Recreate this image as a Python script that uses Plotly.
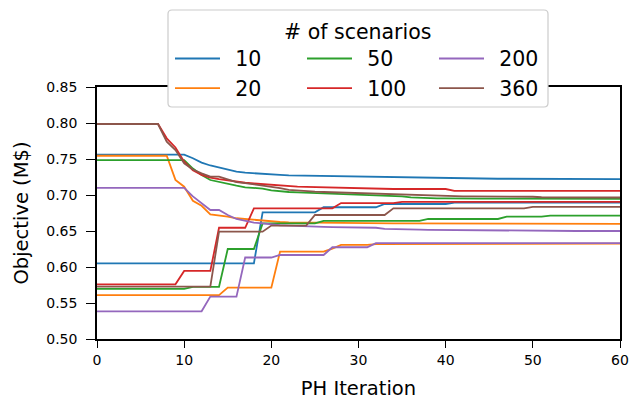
import plotly.graph_objects as go

iterations = list(range(61))

scenario_labels = ["10", "20", "50", "100", "200", "360"]

upper_10 = [0.756]*11 + [0.751, 0.745, 0.741, 0.738, 0.735, 0.7325, 0.731, 0.730, 0.7295, 0.729,
            0.728, 0.7272, 0.727, 0.7265, 0.726, 0.7257, 0.7255, 0.7252, 0.725, 0.7248,
            0.7246, 0.7244, 0.7242, 0.724, 0.7238, 0.7237, 0.7236, 0.7235, 0.7234, 0.7232,
            0.7231, 0.723, 0.7229, 0.7228, 0.7227, 0.7226, 0.7226, 0.7225, 0.7225, 0.7224,
            0.7224, 0.7223, 0.7223, 0.7222, 0.7222, 0.7221, 0.7221, 0.722, 0.722, 0.722]
lower_10 = [0.605]*19 + [0.676]*7 + [0.683]*7 + [0.6875]*8 + [0.6895]*20

upper_20 = [0.7545]*9 + [0.721, 0.7115, 0.692, 0.685, 0.673, 0.672, 0.670, 0.6677, 0.6665, 0.6653, 0.664, 0.663,
            0.6625, 0.662, 0.6618, 0.6616, 0.6614, 0.6612, 0.661, 0.6609, 0.6608, 0.6607] + [0.6605]*10 + [0.660]*20
lower_20 = [0.561]*15 + [0.5713]*6 + [0.6213]*6 + [0.6255] + [0.6306]*4 + [0.6318]*12 + [0.6325]*17

upper_50 = [0.7485]*11 + [0.7367, 0.7278, 0.7208, 0.718, 0.7162, 0.713, 0.7107, 0.7098, 0.709, 0.7065,
            0.705, 0.7042, 0.7036, 0.7032, 0.7028, 0.7024, 0.702, 0.7016, 0.7012, 0.7008,
            0.7002, 0.6996, 0.699, 0.6985, 0.698, 0.6968, 0.696, 0.6956, 0.6954, 0.6953] + [0.695]*10 + [0.6946]*10
lower_50 = [0.5695]*11 + [0.5725]*4 + [0.625]*4 + [0.6606]*7 + [0.6642]*12 + [0.6667]*9 + [0.670]*5 + [0.6713]*9

upper_100 = [0.7986]*8 + [0.7787, 0.766, 0.7463, 0.7344, 0.7278, 0.724, 0.7219, 0.7201, 0.7185, 0.717, 0.716, 0.715, 0.7144,
             0.7135, 0.7125, 0.7116, 0.7112, 0.7108, 0.7104, 0.7102, 0.7098, 0.7094, 0.709,
             0.7088, 0.7086, 0.7084] + [0.7083]*7 + [0.7058]*20
lower_100 = [0.576]*10 + [0.5945]*4 + [0.6545]*4 + [0.6815]*10 + [0.6888]*7 + [0.6905]*26

upper_200 = [0.7098]*11 + [0.698, 0.688, 0.6792, 0.6792, 0.6722, 0.6667, 0.6639, 0.6616, 0.6606, 0.659,
             0.658, 0.6574, 0.6567, 0.656, 0.6558, 0.6556, 0.6554, 0.6552, 0.6551, 0.655,
             0.6548, 0.6545, 0.653, 0.6525, 0.6522, 0.652, 0.6518, 0.6516, 0.6515, 0.6514] + [0.651]*4 + [0.650]*16
lower_200 = [0.5385]*13 + [0.5588]*4 + [0.6132]*4 + [0.6167]*6 + [0.6274]*5 + [0.6332]*29

upper_360 = [0.7986]*8 + [0.774, 0.7625, 0.744, 0.7353, 0.7301, 0.7255, 0.7255, 0.7219, 0.718, 0.7165, 0.7148, 0.713, 0.712,
             0.7095, 0.707, 0.706, 0.7052, 0.7046, 0.7042, 0.7038, 0.7034, 0.703, 0.7025,
             0.702, 0.7015, 0.701, 0.7005, 0.700, 0.6997, 0.6994, 0.6991, 0.6989, 0.6987] + [0.6982]*5 + [0.6976]*5 + [0.6969]*5 + [0.6965]*5
lower_360 = [0.5727]*14 + [0.649]*6 + [0.6575]*5 + [0.6722]*9 + [0.6815]*16 + [0.6835]*11

x_ticks = [0, 10, 20, 30, 40, 50, 60]
y_ticks = [0.50, 0.55, 0.60, 0.65, 0.70, 0.75, 0.80, 0.85]

colors = ["#1f77b4", "#ff7f0e", "#2ca02c", "#d62728", "#9467bd", "#8c564b"]
legend_ranks = [1, 4, 2, 5, 3, 6]
uppers = [upper_10, upper_20, upper_50, upper_100, upper_200, upper_360]
lowers = [lower_10, lower_20, lower_50, lower_100, lower_200, lower_360]

FONT = "DejaVu Sans"
W, H = 640, 402
ML, MR, MT, MB = 97, 20, 87, 63
PW, PH = W - ML - MR, H - MT - MB


def px_to_paper_x(px):
    return (px - ML) / PW


def px_to_paper_y(py):
    return (H - MB - py) / PH


fig = go.Figure()
for lab, col, rank, up, lo in zip(scenario_labels, colors, legend_ranks, uppers, lowers):
    fig.add_trace(go.Scatter(x=iterations, y=up, mode="lines", name="\u2002" + lab, legendgroup=lab,
                             legendrank=rank, line=dict(color=col, width=1.8), showlegend=True))
    fig.add_trace(go.Scatter(x=iterations, y=lo, mode="lines", name="\u2002" + lab, legendgroup=lab,
                             legendrank=rank, line=dict(color=col, width=1.8), showlegend=False))

# legend frame (rounded, light grey) drawn above the axes
bx0, bx1 = px_to_paper_x(168), px_to_paper_x(548)
by1, by0 = px_to_paper_y(10), px_to_paper_y(107)
rx, ry = 4 / PW, 4 / PH
path = (f"M{bx0+rx},{by0} L{bx1-rx},{by0} Q{bx1},{by0} {bx1},{by0+ry} "
        f"L{bx1},{by1-ry} Q{bx1},{by1} {bx1-rx},{by1} L{bx0+rx},{by1} "
        f"Q{bx0},{by1} {bx0},{by1-ry} L{bx0},{by0+ry} Q{bx0},{by0} {bx0+rx},{by0} Z")
fig.add_shape(type="path", path=path, xref="paper", yref="paper", layer="above",
              fillcolor="white", line=dict(color="#cccccc", width=1.2))

fig.update_layout(
    width=W, height=H,
    margin=dict(l=ML, r=MR, t=MT, b=MB, autoexpand=False),
    paper_bgcolor="white", plot_bgcolor="white",
    font=dict(family=FONT, size=14, color="black"),
    showlegend=True, hovermode=False,
    legend=dict(
        orientation="h", x=px_to_paper_x(170), xanchor="left", y=px_to_paper_y(12), yanchor="top",
        title=dict(text="# of scenarios\u2002\u2002", side="top center", font=dict(size=20.5, family=FONT)),
        font=dict(size=20.5, family=FONT),
        bgcolor="rgba(0,0,0,0)", borderwidth=0,
        itemwidth=45, entrywidth=72, traceorder="normal",
        itemclick=False, itemdoubleclick=False,
    ),
)
fig.update_xaxes(
    range=[0, 60], tickmode="array", tickvals=x_ticks, ticktext=[str(v) for v in x_ticks],
    showline=True, linecolor="black", linewidth=1.5, mirror=True,
    ticks="outside", ticklen=7, tickwidth=1.3, tickcolor="black",
    showgrid=False, zeroline=False,
    title=dict(text="PH Iteration", font=dict(size=19.5, family=FONT), standoff=15),
    tickfont=dict(size=14, family=FONT),
)
fig.update_yaxes(
    range=[0.5, 0.85], tickmode="array", tickvals=y_ticks, ticktext=[f"{v:.2f}" for v in y_ticks],
    showline=True, linecolor="black", linewidth=1.5, mirror=True,
    ticks="outside", ticklen=9, tickwidth=1.3, tickcolor="black", ticklabelstandoff=6,
    showgrid=False, zeroline=False,
    title=dict(text="Objective (M$)", font=dict(size=19.5, family=FONT), standoff=12),
    tickfont=dict(size=14, family=FONT),
)

fig.write_html("out.html", post_script="document.body.style.margin='0px';",
               config={"displayModeBar": False})
